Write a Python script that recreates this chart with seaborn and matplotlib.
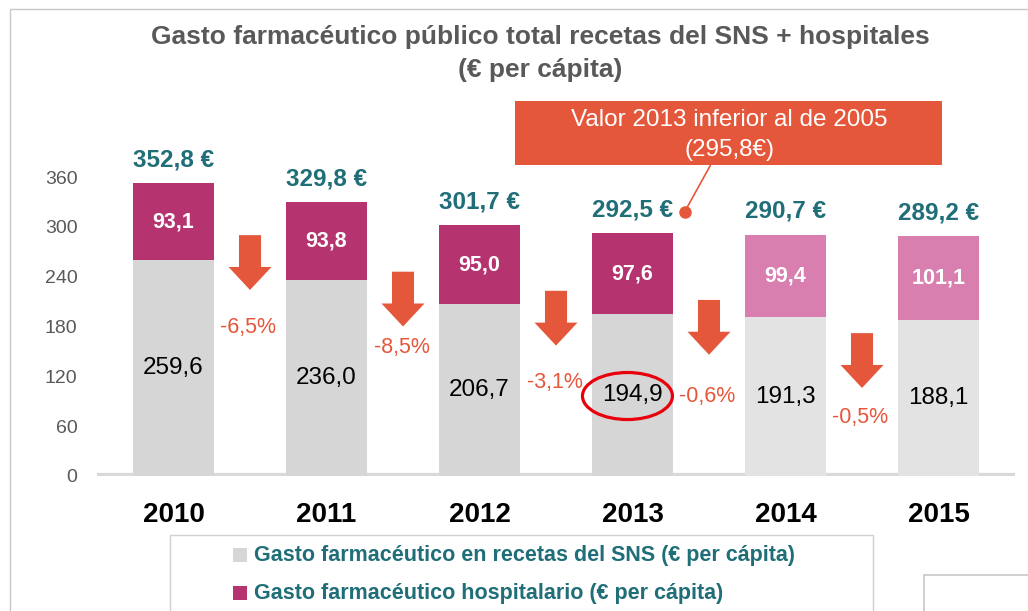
import matplotlib
matplotlib.use("Agg")
import matplotlib.pyplot as plt
from matplotlib.patches import Rectangle, Ellipse, FancyArrow
from matplotlib.lines import Line2D
import seaborn as sns

# datos (€ per cápita)
years = ['2010', '2011', '2012', '2013', '2014', '2015']
recetas = [259.6, 236.0, 206.7, 194.9, 191.3, 188.1]
hospital = [93.1, 93.8, 95.0, 97.6, 99.4, 101.1]
totales = [352.8, 329.8, 301.7, 292.5, 290.7, 289.2]
variacion = ['-6,5%', '-8,5%', '-3,1%', '-0,6%', '-0,5%']

fmt = lambda v: f"{v:.1f}".replace('.', ',')

sns.set_style("white")
plt.rcParams['font.family'] = ['Liberation Sans', 'DejaVu Sans']

TEAL = '#1f6e78'
ORANGE = '#e5573b'
col_hosp = ['#b5346f'] * 4 + ['#d87fb0'] * 2
col_rec = ['#d6d6d6'] * 4 + ['#e3e3e3'] * 2

fig = plt.figure(figsize=(10.28, 6.11), dpi=100)
ax = fig.add_axes([97 / 1028, 135 / 611, 918 / 1028, 315.6 / 611])

# barras apiladas: total (hospitalario arriba) y recetas encima
sns.barplot(x=years, y=totales, hue=years, palette=col_hosp, legend=False,
            width=0.53, ax=ax, saturation=1, linewidth=0)
sns.barplot(x=years, y=recetas, hue=years, palette=col_rec, legend=False,
            width=0.53, ax=ax, saturation=1, linewidth=0)

ax.set_xlim(-0.5, 5.5)
ax.set_ylim(0, 380)
ax.set_yticks(range(0, 361, 60))
ax.tick_params(axis='y', length=0, pad=14, labelsize=14, labelcolor='#595959')
ax.tick_params(axis='x', length=0, pad=19)
ax.set_xticks(range(len(years)))
ax.set_xticklabels(years, fontsize=20, fontweight='bold', color='black')
for s in ax.spines.values():
    s.set_visible(False)
ax.axhline(0, color='#d9d9d9', lw=4.5, zorder=0.5)

for i in range(len(years)):
    ax.text(i, recetas[i] / 2, fmt(recetas[i]), ha='center', va='center',
            fontsize=17.5, color='black')
    ax.text(i, recetas[i] + hospital[i] / 2, fmt(hospital[i]), ha='center',
            va='center', fontsize=15.5, fontweight='bold', color='white')
    ax.text(i, totales[i] + 28, fmt(totales[i]) + ' €', ha='center', va='center',
            fontsize=17.5, fontweight='bold', color=TEAL, clip_on=False)

# flechas de variación
arrow_top = [290, 246, 223, 212, 172]
label_y = [179, 155, 112, 96, 71]
for i, txt in enumerate(variacion):
    xc = i + 0.5
    ax.add_patch(FancyArrow(xc, arrow_top[i], 0, -66, width=0.144, head_width=0.281,
                            head_length=27.7, length_includes_head=True,
                            color=ORANGE, lw=0))
    ax.text(xc - 0.01, label_y[i], txt, ha='center', va='center', fontsize=15.5,
            color=ORANGE)

# elipse sobre el valor de 2013
ax.add_patch(Ellipse((2.967, 96.3), 0.588, 56.6, fill=False, ec='#e8000b', lw=2.3,
                     zorder=5))

# cuadro de anotación
ax.add_patch(Rectangle((2.235, 374.4), 2.791, 77.1, color=ORANGE, clip_on=False, lw=0))
ax.text(3.631, 428.6, 'Valor 2013 inferior al de 2005', ha='center', va='center',
        fontsize=17.5, color='white', clip_on=False)
ax.text(3.631, 392.5, '(295,8€)', ha='center', va='center', fontsize=17.5,
        color='white', clip_on=False)
ax.plot([3.510, 3.340], [374.4, 317.8], color=ORANGE, lw=1.2, clip_on=False)
ax.plot([3.340], [317.8], 'o', color=ORANGE, ms=8, clip_on=False)

# título
fig.text(540 / 1028, 1 - 37 / 611, 'Gasto farmacéutico público total recetas del SNS + hospitales',
         ha='center', va='center', fontsize=19, fontweight='bold', color='#595959')
fig.text(540 / 1028, 1 - 70 / 611, '(€ per cápita)', ha='center', va='center',
         fontsize=19, fontweight='bold', color='#595959')

# marcos
fig.add_artist(Line2D([10 / 1028, 1], [1 - 9 / 611] * 2, color='#c8c8c8', lw=1))
fig.add_artist(Line2D([10 / 1028] * 2, [0, 1 - 9 / 611], color='#c8c8c8', lw=1))
fig.add_artist(Rectangle((924 / 1028, -0.1), 0.2, 0.1 + 36 / 611, fill=False,
                         ec='#c8c8c8', lw=1.2))

# leyenda
fig.add_artist(Rectangle((170 / 1028, -0.1), 703 / 1028, 0.1 + 76 / 611, fill=False,
                         ec='#d0d0d0', lw=1))
leg = [('Gasto farmacéutico en recetas del SNS (€ per cápita)', '#d6d6d6', 555),
       ('Gasto farmacéutico hospitalario (€ per cápita)', '#b5346f', 593)]
for label, c, yp in leg:
    fig.add_artist(Rectangle((233 / 1028, 1 - (yp + 7) / 611), 14 / 1028, 14 / 611,
                             color=c, lw=0))
    fig.text(254 / 1028, 1 - yp / 611, label, ha='left', va='center', fontsize=15.5,
             fontweight='bold', color=TEAL)

fig.savefig('out.png', dpi=100)
